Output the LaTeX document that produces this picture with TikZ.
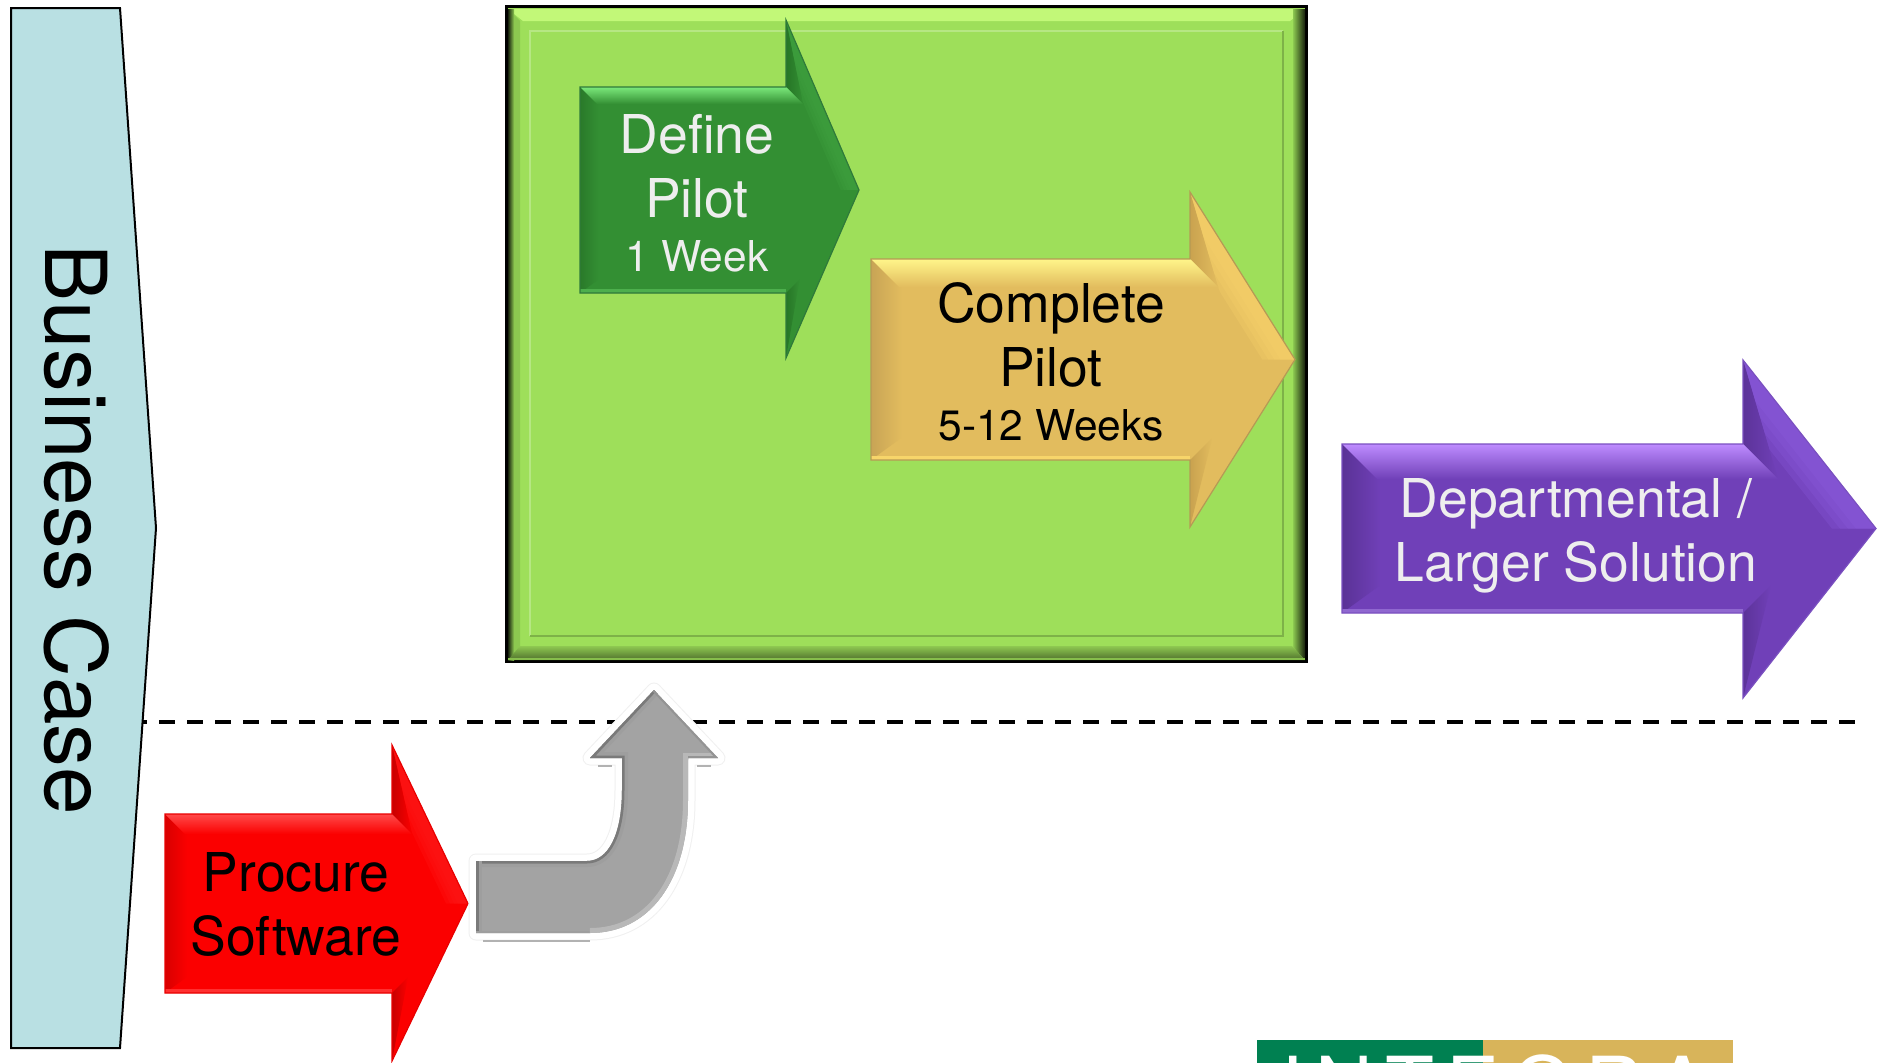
\documentclass[tikz,border=0pt]{standalone}
\usepackage{fontspec}
\setmainfont{TeX Gyre Heros}
\newfontfamily\logofont[LetterSpace=15]{TeX Gyre Heros}
\usetikzlibrary{calc}
\definecolor{dpBase}{HTML}{338F33}\definecolor{dpTop}{HTML}{7BE87B}\definecolor{dpLeft}{HTML}{2A7A2A}\definecolor{dpBot}{HTML}{4DAF4D}\definecolor{dpDark}{HTML}{267526}\definecolor{dpHi}{HTML}{3FA03F}\definecolor{dpEdge}{HTML}{2F7A3A}
\definecolor{cpBase}{HTML}{E2BC5E}\definecolor{cpTop}{HTML}{FFF58A}\definecolor{cpLeft}{HTML}{C8A455}\definecolor{cpBot}{HTML}{F7D56A}\definecolor{cpDark}{HTML}{C9A24F}\definecolor{cpHi}{HTML}{F6D06A}\definecolor{cpEdge}{HTML}{B59A55}
\definecolor{dsBase}{HTML}{7040B8}\definecolor{dsTop}{HTML}{BE8CFF}\definecolor{dsLeft}{HTML}{5A3296}\definecolor{dsBot}{HTML}{9068D0}\definecolor{dsDark}{HTML}{5C3399}\definecolor{dsHi}{HTML}{8A5ADC}\definecolor{dsEdge}{HTML}{7A50C0}
\definecolor{psBase}{HTML}{FB0000}\definecolor{psTop}{HTML}{FF4A4A}\definecolor{psLeft}{HTML}{D80000}\definecolor{psBot}{HTML}{FF3030}\definecolor{psDark}{HTML}{C80000}\definecolor{psHi}{HTML}{FF1818}\definecolor{psEdge}{HTML}{E80000}
\definecolor{caseFill}{HTML}{B9E0E3}
\definecolor{pilotFill}{HTML}{9EDF5A}
\definecolor{pilotLight}{HTML}{C2F878}
\definecolor{pilotMid}{HTML}{8CC850}
\definecolor{bentFill}{HTML}{A3A3A3}
\definecolor{logoGreen}{HTML}{008051}
\definecolor{logoGold}{HTML}{D8B45A}
\definecolor{lightText}{HTML}{EEEEEE}
\tikzset{
  bigtext/.style={anchor=base,inner sep=0pt,font=\fontsize{53.5}{60}\selectfont},
  smalltext/.style={anchor=base,inner sep=0pt,font=\fontsize{42.5}{50}\selectfont},
  casetext/.style={anchor=base,inner sep=0pt,rotate=-90,font=\fontsize{85.5}{95}\selectfont},
  logotext/.style={anchor=base,inner sep=0pt,text=white,font=\logofont\fontsize{80}{90}\selectfont},
  bentoutline/.style={line join=round}
}
% x0,y0,y1,x1,yt,yb,x2,d,prefix
\newcommand{\bevelarrow}[9]{%
  \pgfmathsetmacro{\ym}{(#2+#3)/2}%
  \fill[#9Base] (#1,#2) -- (#4,#2) -- (#4,#5) -- (#7,\ym) -- (#4,#6) -- (#4,#3) -- (#1,#3) -- cycle;
  % soft highlight along the upper edge of the head
  \begin{scope}
    \clip (#4,#5) -- (#7,\ym) -- ({#7-(#7-#4)*0.45},\ym) -- ({#4+#8},{#2+#8}) -- cycle;
    \foreach \w in {1,1.4,1.8,2.2}{
      \draw[#9Hi,opacity=.3,line width=\w*#8*0.9pt] (#4,#5) -- (#7,\ym);
    }
  \end{scope}
  \shade[left color=#9Dark,right color=#9Base] (#4,#5) -- (#4,#2) -- ({#4+#8},{#2+#8}) -- cycle;
  \shade[left color=#9Dark,right color=#9Base] (#4,#6) -- (#4,#3) -- ({#4+#8*0.8},{#3-#8*0.8}) -- cycle;
  % body bevels
  \shade[left color=#9Left,right color=#9Base] (#1,#2) -- ({#1+#8*1.1},{#2+#8}) -- ({#1+#8*1.1},{#3-#8*0.8}) -- (#1,#3) -- cycle;
  \shade[top color=#9Top,bottom color=#9Base] (#1,#2) -- (#4,#2) -- ({#4+#8},{#2+#8}) -- ({#1+#8},{#2+#8}) -- cycle;
  \fill[#9Bot] (#1,{#3-4}) -- (#4,{#3-4}) -- (#4,#3) -- (#1,#3) -- cycle;
  \draw[#9Edge,line width=1.2pt,line join=miter] (#1,#2) -- (#4,#2) -- (#4,#5) -- (#7,\ym) -- (#4,#6) -- (#4,#3) -- (#1,#3) -- cycle;
}
\begin{document}
\begin{tikzpicture}[x=1pt,y=-1pt]
\useasboundingbox (0,0) rectangle (1883,1063);
\fill[white] (0,0) rectangle (1883,1063);

% dashed separator
\coordinate (dashL) at (143,722);
\coordinate (dashR) at (1857,722);
\draw[black,line width=4pt,dash pattern=on 16pt off 12pt,dash phase=12pt] (dashL) -- (dashR);

% business case
\draw[fill=caseFill,draw=black,line width=2pt,line join=miter] (11,8) -- (120,8) -- (156,528) -- (120,1048) -- (11,1048) -- cycle;
\node[casetext] (caseText) at (45,530) {Business Case};

% pilot box
\fill[black] (505,5) rectangle (1308,663);
\fill[pilotFill] (508,8) rectangle (1305,660);
\fill[pilotLight] (508,9) -- (1305,9) -- (1290,21) -- (523,21) -- cycle;
\fill[pilotMid] (508,9) -- (520,21) -- (520,648) -- (508,660) -- cycle;
\shade[left color=black!85!pilotFill,right color=pilotMid] (508,9) rectangle (514,660);
\shade[left color=pilotMid,right color=black!85!pilotFill] (1293,9) -- (1305,9) -- (1305,660) -- (1293,647) -- cycle;
\shade[top color=pilotFill!90!black,bottom color=pilotFill!50!black] (508,660) -- (1305,660) -- (1292,646) -- (520,646) -- cycle;
\fill[pilotFill!85!black] (508,657.5) rectangle (1305,660);
\draw[pilotFill!75!white,line width=2pt] (530,636) -- (530,31) -- (1283,31);
\draw[pilotFill!80!black,line width=2pt] (530,636) -- (1283,636) -- (1283,31);

% define pilot
\bevelarrow{580}{87}{293}{786}{20}{358}{859}{17}{dp}
\node[bigtext,text=lightText] (defineA) at (697,153) {Define};
\node[bigtext,text=lightText] (defineB) at (697,217) {Pilot};
\node[smalltext,text=lightText] (defineC) at (697,271) {1 Week};

% complete pilot
\bevelarrow{871}{259}{460}{1190}{192}{527}{1295}{28}{cp}
\node[bigtext,text=black] (completeA) at (1051,322) {Complete};
\node[bigtext,text=black] (completeB) at (1051,386) {Pilot};
\node[smalltext,text=black] (completeC) at (1051,440) {5-12 Weeks};

% departmental
\bevelarrow{1342}{444}{613}{1743}{360}{698}{1876}{35}{ds}
\node[bigtext,text=lightText] (deptA) at (1576,517) {Departmental /};
\node[bigtext,text=lightText] (deptB) at (1576,581) {Larger Solution};

% procure
\bevelarrow{165}{814}{993}{392}{745}{1061}{468}{20}{ps}
\node[bigtext,text=black] (procA) at (296,891) {Procure};
\node[bigtext,text=black] (procB) at (296,955) {Software};

% bent arrow
\def\bentpath{(476,861) -- (587,861) .. controls (608,861) and (622,835) .. (622,790) -- (622,758) -- (590,758) -- (654,690) -- (718,758) -- (688,758) -- (688,800) .. controls (688,880) and (650,933) .. (590,933) -- (476,933) -- cycle}
\draw[black!6,line width=15pt,bentoutline] \bentpath;
\draw[white,line width=13pt,bentoutline] \bentpath;
\draw[black!30,line width=1.5pt] (598,766) -- (612,766);
\draw[black!30,line width=1.5pt] (697,766) -- (711,766);
\draw[black!30,line width=1.5pt] (483,941) -- (590,941);
\fill[bentFill] \bentpath;
\begin{scope}
  \clip \bentpath;
  \draw[black!38,line width=12pt] (476,861) -- (587,861) .. controls (608,861) and (622,835) .. (622,790) -- (622,758) -- (590,758) -- (654,690);
  \draw[black!52,line width=5pt] (476,861) -- (587,861) .. controls (608,861) and (622,835) .. (622,790) -- (622,758) -- (590,758) -- (654,690);
  \draw[black!38,line width=12pt] (476,861) -- (476,933);
  \draw[black!52,line width=5pt] (476,861) -- (476,933);
  \draw[black!38,line width=5pt] (476,933) -- (590,933);
  \draw[black!28,line width=10pt] (718,758) -- (688,758) -- (688,800) .. controls (688,880) and (650,933) .. (590,933);
  \draw[black!42,line width=4pt] (654,690) -- (718,758) -- (688,758);
\end{scope}

% logo
\begin{scope}
  \clip (0,0) rectangle (1883,1063);
  \fill[logoGreen] (1257,1040) rectangle (1483,1063);
  \fill[logoGold] (1483,1040) rectangle (1733,1063);
  \node[logotext] (logo) at (1495,1114) {INTEGRA};
\end{scope}
\end{tikzpicture}
\end{document}
